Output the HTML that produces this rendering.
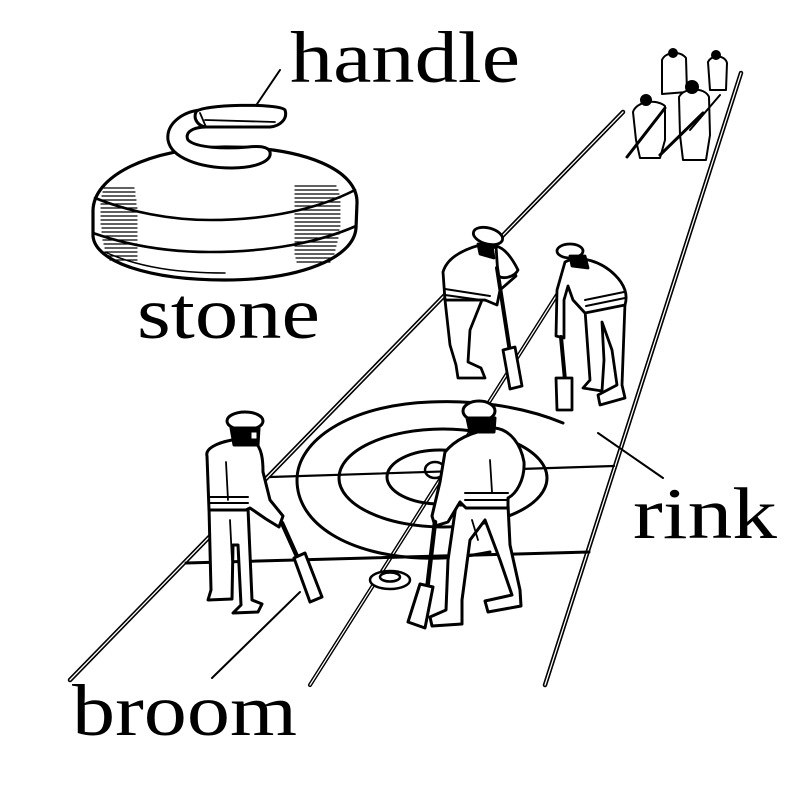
<!DOCTYPE html>
<html><head><meta charset="utf-8"><style>
html,body{margin:0;padding:0;background:#fff;}
svg{display:block;}
text{font-family:"Liberation Serif",serif;fill:#000;}
</style></head><body>
<svg width="800" height="800" viewBox="0 0 800 800" xmlns="http://www.w3.org/2000/svg">
<rect width="800" height="800" fill="#fff"/>
<g fill="none" stroke="#000" stroke-linecap="round" stroke-linejoin="round">
<!-- rink lines (double) -->
<path d="M70,680 L623,112" stroke-width="4.5"/>
<path d="M70,680 L623,112" stroke="#fff" stroke-width="1.3"/>
<path d="M545,685 L741,73" stroke-width="4.5"/>
<path d="M545,685 L741,73" stroke="#fff" stroke-width="1.3"/>
<path d="M310,685 L560,290" stroke-width="4"/>
<path d="M310,685 L560,290" stroke="#fff" stroke-width="1.2"/>
<path d="M270,477 L614,466" stroke-width="2.2"/>
<path d="M186,563 L589,552" stroke-width="3"/>
<!-- house -->
<path d="M563,423 C520,405 470,400 430,402 C350,405 297,440 297,480 C297,525 350,555 420,558 C450,559 470,556 490,552" stroke-width="3"/>
<ellipse cx="443" cy="478" rx="104" ry="49" stroke-width="3"/>
<ellipse cx="440" cy="477" rx="53" ry="27" stroke-width="3"/>
<ellipse cx="435" cy="470" rx="10" ry="8" stroke-width="2.5"/>
<!-- pointers -->
<path d="M280,70 L253,110" stroke-width="2"/>
<path d="M598,433 L663,478" stroke-width="2"/>
<path d="M212,678 L300,592" stroke-width="2"/>
</g>

<!-- curling stone -->
<g stroke="#000" stroke-linecap="round" stroke-linejoin="round">
<path d="M93,212 C92,176 150,148 225,147 C305,147 358,170 357,203 L356,228 C354,258 300,280 225,280 C150,280 95,262 93,236 Z" fill="#fff" stroke-width="3.2"/>
<path d="M95,198 C130,212 170,220 210,220 C270,220 320,208 355,190" fill="none" stroke-width="2.6"/>
<path d="M93,233 C130,246 170,252 210,252 C270,252 320,242 356,226" fill="none" stroke-width="2.6"/>
<path d="M105,252 C140,268 180,273 225,273" fill="none" stroke-width="1.5"/>
<g stroke-width="1.2">
<path d="M104,188 H134 M103,192 H135 M102,196 H135 M102,200 H136 M101,204 H136 M101,208 H137 M101,212 H137 M101,216 H137 M101,220 H137 M101,224 H137 M102,228 H137 M102,232 H137 M103,236 H137 M103,240 H137 M104,244 H137 M105,248 H137 M106,252 H137 M108,256 H137 M110,260 H137"/>
<path d="M295,186 H336 M295,190 H338 M295,194 H339 M295,198 H340 M295,202 H340 M295,206 H340 M295,210 H340 M295,214 H340 M295,218 H340 M295,222 H340 M295,226 H340 M295,230 H339 M295,234 H339 M295,238 H338 M295,242 H337 M295,246 H336 M295,250 H335 M295,254 H334 M296,258 H332 M297,262 H330"/>
</g>
<!-- handle -->
<path d="M200,110 C182,112 166,124 168,140 C171,158 200,168 232,168 C256,168 272,161 270,152 C268,146 258,146 248,147 C225,149 196,148 188,140 C184,132 194,127 206,127 Z" fill="#fff" stroke-width="3"/>
<path d="M196,112 C200,104 280,103 285,110 C288,119 280,126 270,127 L206,127 C198,126 193,119 196,112 Z" fill="#fff" stroke-width="3"/>
<path d="M205,120 L275,122 M200,113 L206,127" fill="none" stroke-width="1.8"/>
</g>

<!-- far players -->
<g stroke="#000" stroke-width="2" fill="#fff" stroke-linejoin="round" stroke-linecap="round">
<path d="M662,60 C665,52 680,50 686,58 L687,92 L662,94 Z"/>
<circle cx="673" cy="53" r="4" fill="#000"/>
<path d="M708,62 C712,54 725,55 727,63 L726,90 L710,90 Z"/>
<circle cx="716" cy="55" r="4" fill="#000"/>
<path d="M633,112 C636,102 655,98 665,106 L665,140 L660,158 L640,158 L636,140 Z"/>
<circle cx="646" cy="100" r="5" fill="#000"/>
<path d="M679,97 C684,87 705,87 709,97 L710,135 L706,160 L683,160 L680,135 Z"/>
<circle cx="692" cy="87" r="6" fill="#000"/>
<path d="M665,108 L627,157 M703,113 L660,155" fill="none" stroke-width="3"/>
<path d="M690,130 L720,95" fill="none" stroke-width="2"/>
</g>

<!-- player 2a (mid-left) -->
<g stroke="#000" stroke-width="2.8" fill="#fff" stroke-linejoin="round" stroke-linecap="round">
<path d="M445,300 L450,345 L456,365 L458,378 L485,378 L481,368 L468,362 L470,330 L482,300 Z"/>
<path d="M443,272 C447,258 462,250 480,245 L498,248 C506,258 512,266 516,276 L500,290 L497,305 L485,300 L445,300 Z"/>
<path d="M445,289 L490,296 M445,295 L488,301" fill="none" stroke-width="2"/>
<path d="M496,246 C505,248 512,258 518,270 C515,276 505,280 498,276 Z"/>
<ellipse cx="488" cy="236" rx="15" ry="8" transform="rotate(15 488 236)"/>
<path d="M478,244 L492,246 L494,258 L480,254 Z" fill="#000"/>
<path d="M497,268 L510,352" fill="none" stroke-width="4"/>
<path d="M503,350 L515,347 L522,386 L510,389 Z"/>
</g>

<!-- player 2b (mid-right) -->
<g stroke="#000" stroke-width="2.8" fill="#fff" stroke-linejoin="round" stroke-linecap="round">
<path d="M585,310 L590,380 L583,388 L602,391 L604,360 L602,322 L612,350 L617,385 L598,395 L600,405 L625,398 L622,385 L625,303 Z"/>
<path d="M565,262 C580,254 602,262 615,275 C625,285 628,295 625,305 L585,313 L573,300 L568,286 L564,300 L564,338 L556,336 L557,290 Z"/>
<path d="M585,300 L624,292 M586,306 L625,298" fill="none" stroke-width="2"/>
<ellipse cx="570" cy="251" rx="13" ry="7"/>
<path d="M570,256 L585,256 L588,268 L572,266 Z" fill="#000"/>
<path d="M561,337 L565,380" fill="none" stroke-width="4"/>
<path d="M556,378 L572,378 L572,410 L557,410 Z"/>
</g>

<!-- player 1 (front-left) -->
<g stroke="#000" stroke-width="3" fill="#fff" stroke-linejoin="round" stroke-linecap="round">
<path d="M209,508 L211,590 L208,600 L232,599 L233,545 L238,545 L241,605 L233,613 L258,612 L262,604 L252,600 L248,508 Z"/>
<path d="M207,456 C205,449 216,443 232,440 L254,441 C262,448 263,460 263,472 L270,500 L283,516 L279,527 L266,519 L250,508 L246,510 L209,510 Z"/>
<path d="M209,497 L248,497 M209,503 L248,503" fill="none" stroke-width="2"/>
<path d="M226,462 L228,500 M230,520 L232,560" fill="none" stroke-width="1.8"/>
<ellipse cx="245" cy="421" rx="18" ry="9"/>
<path d="M231,428 L259,428 L258,445 L234,445 Z" fill="#000"/>
<path d="M250,431 L258,431 L258,440 L250,440 Z"/>
<path d="M282,523 L300,563" fill="none" stroke-width="4.5"/>
<path d="M294,558 L305,553 L322,597 L310,602 Z"/>
</g>

<!-- curling stone on ice -->
<g stroke="#000" stroke-width="2.5" fill="#fff">
<ellipse cx="390" cy="580" rx="20" ry="9"/>
<ellipse cx="390" cy="577" rx="10" ry="4.5"/>
</g>

<!-- player 3 (front-center) -->
<g stroke="#000" stroke-width="3" fill="#fff" stroke-linejoin="round" stroke-linecap="round">
<path d="M456,505 L448,560 L446,610 L430,617 L432,626 L462,624 L462,600 L470,540 L485,520 L500,560 L512,595 L485,601 L488,612 L521,606 L520,590 L510,545 L508,505 Z"/>
<path d="M445,452 C455,440 470,432 495,428 C511,430 521,445 524,462 C525,480 516,494 508,498 L508,508 L466,508 L460,502 L448,522 L435,526 L432,516 L440,482 Z"/>
<path d="M465,493 L508,493 M465,500 L508,500" fill="none" stroke-width="2"/>
<path d="M490,460 L492,492 M472,520 L478,540" fill="none" stroke-width="1.8"/>
<ellipse cx="479" cy="411" rx="16" ry="10"/>
<path d="M467,418 L495,418 L494,432 L470,432 Z" fill="#000"/>
<path d="M435,522 L427,590" fill="none" stroke-width="4.5"/>
<path d="M420,584 L433,587 L425,628 L408,622 Z"/>
</g>

<!-- labels -->
<text x="290" y="82" font-size="73" textLength="230" lengthAdjust="spacingAndGlyphs">handle</text>
<text x="137" y="338" font-size="73" textLength="183" lengthAdjust="spacingAndGlyphs">stone</text>
<text x="633" y="538" font-size="73" textLength="144" lengthAdjust="spacingAndGlyphs">rink</text>
<text x="72" y="735" font-size="73" textLength="225" lengthAdjust="spacingAndGlyphs">broom</text>
</svg>
</body></html>
